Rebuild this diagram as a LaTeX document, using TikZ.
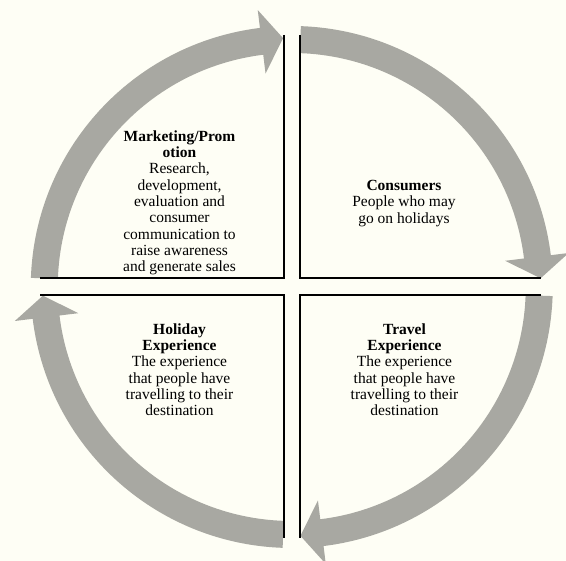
\documentclass[tikz,border=0pt]{standalone}
\usepackage{fontspec}
\setmainfont{Liberation Serif}
\definecolor{bgcream}{RGB}{254,254,245}
\definecolor{arrowgray}{RGB}{168,168,162}
\tikzset{
  quadline/.style={draw=black, line width=2pt, line join=miter, line cap=butt},
  cyclearrow/.style={fill=arrowgray},
  quadtext/.style={align=center, inner sep=0pt, anchor=north, font=\fontsize{15.5pt}{16.3pt}\selectfont},
}
\newcommand\cyclearc[1]{%
  \fill[cyclearrow, shift={(291.75pt,274pt)}, rotate=#1]
    (88:261pt) arc[start angle=88, end angle=7, radius=261pt]
    -- (7:279pt) -- (2:249pt) -- (7:215pt) -- (7:234pt)
    arc[start angle=7, end angle=88, radius=234pt] -- cycle;
}
\begin{document}
\begin{tikzpicture}[x=1pt,y=1pt]
  \fill[bgcream] (0,0) rectangle (566,561);
  \useasboundingbox (0,0) rectangle (566,561);
  % circular arrows
  \cyclearc{0}
  \cyclearc{90}
  \cyclearc{180}
  \cyclearc{270}
  % quadrant borders
  \draw[quadline] (283.5,526) -- (283.5,282.5) -- (40,282.5);
  \draw[quadline] (300,526) -- (300,282.5) -- (541,282.5);
  \draw[quadline] (40,265.5) -- (283.5,265.5) -- (283.5,23);
  \draw[quadline] (541,265.5) -- (300,265.5) -- (300,23);
  % texts
  \node[quadtext] (mkt) at (179.5,430.7) {\textbf{Marketing/Prom}\\\textbf{otion}\\Research,\\development,\\evaluation and\\consumer\\communication to\\raise awareness\\and generate sales};
  \node[quadtext] (con) at (404,381) {\textbf{Consumers}\\People who may\\go on holidays};
  \node[quadtext] (hol) at (179.5,237.7) {\textbf{Holiday}\\\textbf{Experience}\\The experience\\that people have\\travelling to their\\destination};
  \node[quadtext] (trv) at (404.5,237.7) {\textbf{Travel}\\\textbf{Experience}\\The experience\\that people have\\travelling to their\\destination};
\end{tikzpicture}
\end{document}
